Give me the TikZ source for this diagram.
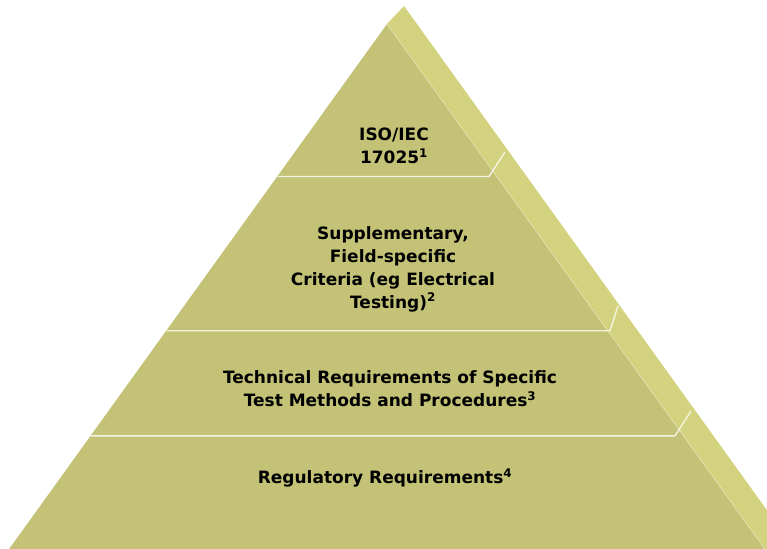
\documentclass[tikz,border=0pt]{standalone}
\usepackage{fontspec}
\usepackage{xcolor}
\usetikzlibrary{positioning}
\setmainfont{DejaVu Sans}

\definecolor{frontolive}{HTML}{C3C276}
\definecolor{sideolive}{HTML}{D3D27E}
\definecolor{bandline}{HTML}{F4F3E0}

\begin{document}
\begin{tikzpicture}[x=1pt,y=-1pt,
  tier/.style={font=\bfseries\fontsize{17}{23}\selectfont, align=center, text=black},
  cut/.style={bandline, line width=1.4pt}]
\useasboundingbox (0,0) rectangle (767,548);
\clip (0,0) rectangle (767,548);

% side face of the pyramid
\fill[sideolive] (387,24) -- (404,6) -- (810,570) -- (780,570) -- cycle;
% front face
\fill[frontolive] (387,24) -- (780,570) -- (-6,570) -- cycle;
\draw[sideolive!50!white, line width=0.5pt] (387,24) -- (780,570);

% tier boundaries
\draw[cut] (277.7,176.5) -- (489,176.5) -- (505,152);
\draw[cut] (166.5,330.7) -- (610,330.7) -- (618,306);
\draw[cut] (90.8,435.8) -- (675,435.8) -- (691,411);

% tier labels
\node[tier] (iso) at (394,146) {ISO/IEC\\17025\textsuperscript{1}};
\node[tier] (supp) at (393,269) {Supplementary,\\Field-specific\\Criteria (eg Electrical\\Testing)\textsuperscript{2}};
\node[tier] (tech) at (390,389) {Technical Requirements of Specific\\Test Methods and Procedures\textsuperscript{3}};
\node[tier] (reg) at (385,478) {Regulatory Requirements\textsuperscript{4}};
\end{tikzpicture}
\end{document}
